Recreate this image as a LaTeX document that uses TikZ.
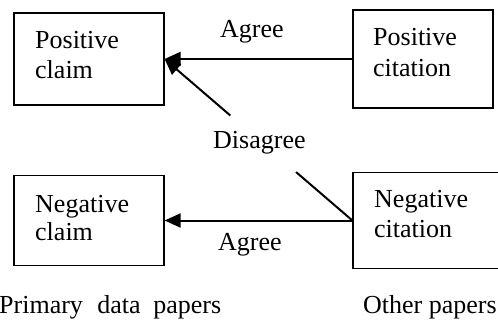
\documentclass[tikz,border=0pt]{standalone}
\usepackage{fontspec}
\setmainfont{Liberation Serif}
\usetikzlibrary{arrows.meta,calc}
\begin{document}
\begin{tikzpicture}[x=1pt,y=-1pt,
  box/.style={draw,line width=1.2pt,inner sep=0pt,minimum width=#1},
  txt/.style={inner sep=0pt,anchor=base west,font=\fontsize{26}{30}\selectfont},
  arr/.style={line width=2pt,-{Triangle[length=16pt,width=14pt]}},
  seg/.style={line width=2pt}]
\useasboundingbox (0,0) rectangle (498,324);
\node[box=150pt,minimum height=92pt] (posclaim) at (89,59) {};
\node[box=140pt,minimum height=98pt] (poscit) at (423,59) {};
\node[box=150pt,minimum height=90pt] (negclaim) at (89,220.5) {};
\node[box=152pt,minimum height=96pt] (negcit) at (429,220.5) {};
\node[txt] (pc1) at (35,48) {Positive};
\node[txt] (pc2) at (35,78) {claim};
\node[txt] (pt1) at (373,45) {Positive};
\node[txt] (pt2) at (373,76) {citation};
\node[txt] (nc1) at (35,212) {Negative};
\node[txt] (nc2) at (35,240) {claim};
\node[txt] (nt1) at (374,207) {Negative};
\node[txt] (nt2) at (374,237) {citation};
\node[txt] (agree1) at (220,37) {Agree};
\node[txt] (disagree) at (213,148) {Disagree};
\node[txt] (agree2) at (218,250) {Agree};
\node[txt] (primary) at (-1,313) {Primary\hspace{8pt} data\hspace{6pt} papers};
\node[txt] (other) at (363,313) {Other papers};
\draw[arr] (poscit.west) -- (posclaim.east);
\draw[arr] (negcit.west) -- (negclaim.east);
\coordinate (d1) at ($(negcit.west)!0.3!(posclaim.east)$);
\coordinate (d2) at ($(negcit.west)!0.65!(posclaim.east)$);
\draw[seg] (negcit.west) -- (d1);
\draw[arr] (d2) -- (posclaim.east);
\end{tikzpicture}
\end{document}
